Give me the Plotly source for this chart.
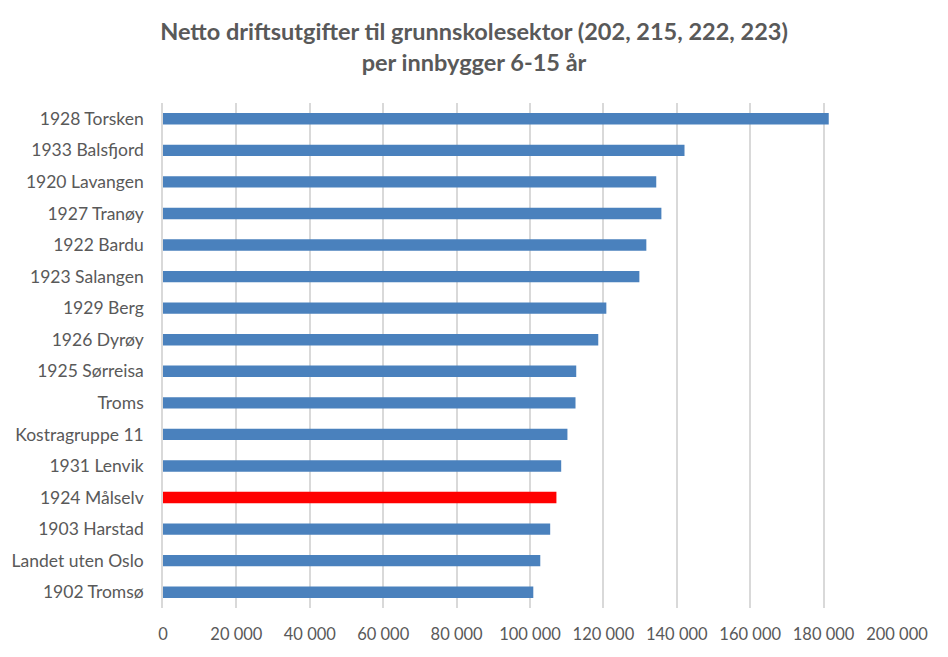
import plotly.graph_objects as go

categories = ["1928 Torsken", "1933 Balsfjord", "1920 Lavangen", "1927 Tranøy", "1922 Bardu",
              "1923 Salangen", "1929 Berg", "1926 Dyrøy", "1925 Sørreisa", "Troms",
              "Kostragruppe 11", "1931 Lenvik", "1924 Målselv", "1903 Harstad",
              "Landet uten Oslo", "1902 Tromsø"]
values = [181400, 142100, 134400, 135800, 131700, 129800, 120800, 118600, 112600, 112400,
          110200, 108500, 107200, 105500, 102800, 100900]
highlight = "1924 Målselv"
tick_vals = [0, 20000, 40000, 60000, 80000, 100000, 120000, 140000, 160000, 180000, 200000]

colors = ["#ff0000" if c == highlight else "#4a81bd" for c in categories]

fig = go.Figure(go.Bar(
    y=categories, x=values, orientation="h",
    marker=dict(color=colors, line=dict(width=0)),
    width=0.36,
))

fig.update_layout(
    width=948, height=657,
    paper_bgcolor="white", plot_bgcolor="white",
    margin=dict(l=155, r=59, t=95, b=57, autoexpand=False),
    separators=", ",
    showlegend=False,
    title=dict(
        text="<b>Netto driftsutgifter til grunnskolesektor (202, 215, 222, 223)<br>per innbygger 6-15 år</b>",
        x=0.4916, xanchor="center", y=0.951, yanchor="top",
        font=dict(family="Lato, Open Sans, sans-serif", size=23.5, color="#595959"),
    ),
    bargap=0.64,
)

fig.update_xaxes(
    range=[0, 200000], tickvals=tick_vals, tickformat=",d",
    showgrid=True, gridcolor="#d9d9d9", gridwidth=1.5,
    zeroline=False, showline=False, automargin=False,
    ticklabelstandoff=14,
    tickfont=dict(family="Lato, sans-serif", size=16.5, color="#595959"),
    fixedrange=True,
)
fig.update_yaxes(
    autorange="reversed", showgrid=False, zeroline=False,
    showline=True, linecolor="#d9d9d9", linewidth=1.5, automargin=False,
    ticklabelstandoff=14,
    tickfont=dict(family="Lato, Open Sans, sans-serif", size=17.5, color="#595959"),
)

fig.write_html("out.html")
